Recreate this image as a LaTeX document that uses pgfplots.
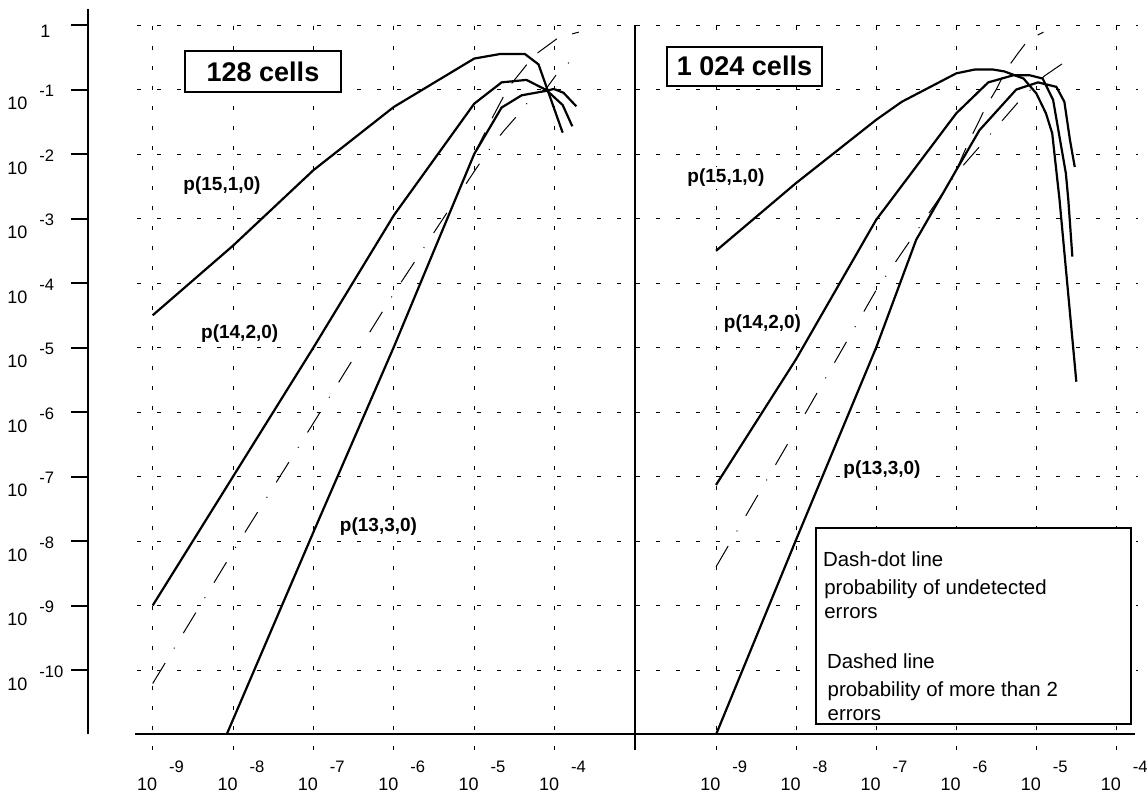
\documentclass[border=0pt]{standalone}
\usepackage{fontspec}
\setmainfont{Liberation Sans}
\usepackage{pgfplots}
\pgfplotsset{compat=1.18}
\newcommand\tf{\fontsize{9}{10}\selectfont}
\newcommand\ef{\fontsize{8.3}{10}\selectfont}
\newcommand\lf{\fontsize{9.5}{11}\selectfont\bfseries}
\newcommand\gf{\fontsize{10.2}{12}\selectfont}
\tikzset{
  solidc/.style={black, line width=1.1pt, line join=round},
  ddc/.style={black, line width=0.5pt, dash pattern=on 12pt off 8.5pt on 0.5pt off 8.5pt},
  dshc/.style={black, line width=0.5pt, dash pattern=on 12pt off 8pt},
}
\begin{document}
\begin{tikzpicture}
\path[use as bounding box] (0,0) rectangle (574pt,-396.5pt);
% ---------------- left panel: 128 cells
\begin{axis}[scale only axis, xmode=log, ymode=log,
    height=362.5pt, ymin=5.75e-12, ymax=1,
    ytick={1,1e-1,1e-2,1e-3,1e-4,1e-5,1e-6,1e-7,1e-8,1e-9,1e-10},
    xtick={1e-9,1e-8,1e-7,1e-6,1e-5,1e-4},
    xticklabels={}, yticklabels={},
    axis line style={draw=none},
    major tick length=0pt, minor tick length=0pt,
    tick style={draw=none},
    grid=major,
    major grid style={black, line width=0.5pt, dash pattern=on 2pt off 8pt},
    anchor=south west, at={(68.5pt,-375pt)}, width=249pt, xmin=6.38e-10, xmax=1e-3]
% p(15,1,0)
\addplot[solidc, mark=none] coordinates {(1e-9,3.16e-5) (1e-8,3.80e-4) (1e-7,5.62e-3) (1e-6,5.37e-2) (1e-5,0.302) (2.09e-5,0.355) (4.27e-5,0.355) (6.31e-5,0.245) (1.26e-4,2.14e-2)};
% p(14,2,0)
\addplot[solidc, mark=none] coordinates {(1e-9,1e-9) (1e-8,1e-7) (1e-7,1e-5) (1e-6,1.12e-3) (1e-5,6.03e-2) (2.19e-5,0.129) (4.47e-5,0.141) (7.94e-5,9.77e-2) (1.26e-4,5.75e-2) (1.66e-4,2.69e-2)};
% p(13,3,0)
\addplot[solidc, mark=none] coordinates {(8.32e-9,1e-11) (1e-7,1.38e-8) (1e-6,1.02e-5) (1e-5,1e-2) (2.19e-5,5.25e-2) (3.89e-5,8.13e-2) (7.94e-5,9.55e-2) (9.77e-5,0.102) (1.29e-4,8.91e-2) (1.86e-4,5.50e-2)};
% undetected errors (dash-dot)
\addplot[ddc, mark=none] coordinates {(1e-9,6.17e-11) (1e-8,6.92e-9) (1e-7,6.76e-7) (1e-6,6.92e-5) (1e-5,5.37e-3) (1.66e-5,1.35e-2) (2.34e-5,2.29e-2) (3.63e-5,4.27e-2) (4.90e-5,6.92e-2) (7.94e-5,0.105) (1.17e-4,0.204) (1.70e-4,0.295)};
% more than 2 errors (dashed)
\addplot[dshc, mark=none] coordinates {(1e-5,1e-2) (1.66e-5,3.55e-2) (2.29e-5,7.59e-2) (2.95e-5,0.126) (4.47e-5,0.240) (6.03e-5,0.363) (1.05e-4,0.603) (1.62e-4,0.724) (2.00e-4,0.776)};
\end{axis}
% ---------------- right panel: 1 024 cells
\begin{axis}[scale only axis, xmode=log, ymode=log,
    height=362.5pt, ymin=5.75e-12, ymax=1,
    ytick={1,1e-1,1e-2,1e-3,1e-4,1e-5,1e-6,1e-7,1e-8,1e-9,1e-10},
    xtick={1e-9,1e-8,1e-7,1e-6,1e-5,1e-4},
    xticklabels={}, yticklabels={},
    axis line style={draw=none},
    major tick length=0pt, minor tick length=0pt,
    tick style={draw=none},
    grid=major,
    major grid style={black, line width=0.5pt, dash pattern=on 2pt off 8pt},
    anchor=south west, at={(318pt,-375pt)}, width=251pt, xmin=1e-10, xmax=1.862e-4]
% p(15,1,0)
\addplot[solidc, mark=none] coordinates {(1e-9,3.16e-4) (1e-8,3.55e-3) (1e-7,3.39e-2) (2.09e-7,6.46e-2) (1e-6,0.178) (1.70e-6,0.204) (2.88e-6,0.204) (3.98e-6,0.191) (6.92e-6,0.148) (1e-5,8.71e-2) (1.32e-5,4.27e-2) (1.58e-5,2.09e-2) (1.95e-5,1.95e-3) (3.16e-5,2.95e-6)};
% p(14,2,0)
\addplot[solidc, mark=none] coordinates {(1e-9,7.41e-8) (1e-8,6.61e-6) (1e-7,9.55e-4) (1e-6,4.27e-2) (2.51e-6,0.129) (5.13e-6,0.166) (8.32e-6,0.166) (1.20e-5,0.148) (1.62e-5,6.92e-2) (2.34e-5,5.01e-3) (2.51e-5,1.95e-3) (2.82e-5,2.57e-4)};
% p(13,3,0)
\addplot[solidc, mark=none] coordinates {(1e-9,1e-11) (1e-8,1.05e-8) (1e-7,1e-5) (3.16e-7,4.68e-4) (1e-6,5.62e-3) (1.95e-6,2.34e-2) (5.62e-6,0.1) (1.05e-5,0.129) (1.78e-5,0.110) (2.24e-5,6.46e-2) (2.63e-5,1.66e-2) (3.02e-5,6.3e-3)};
% undetected errors (dash-dot)
\addplot[ddc, mark=none] coordinates {(1e-9,3.98e-9) (1e-8,5.37e-7) (1e-7,7.76e-5) (1e-6,5.01e-3) (6.31e-6,6.92e-2) (1.26e-5,0.162) (2.29e-5,0.269)};
% more than 2 errors (dashed)
\addplot[dshc, mark=none] coordinates {(1e-6,5.62e-3) (1.41e-6,1.48e-2) (1.91e-6,3.16e-2) (2.29e-6,5.13e-2) (3.16e-6,0.1) (4.17e-6,0.2) (5.89e-6,0.363) (7.94e-6,0.589) (1.23e-5,0.776)};
\end{axis}
% ---------------- frame, ticks, labels (pixel units, y down)
\begin{scope}[x=0.5pt,y=-0.5pt]
\draw[line width=1pt] (88.3,9) -- (88.3,734.3);
\foreach \k in {0,...,10} {\draw[line width=1pt] (70.7,{25+64.5*\k}) -- (88.3,{25+64.5*\k});}
\draw[line width=1pt] (135,733.5) -- (1135,733.5);
\draw[line width=1pt] (635,25) -- (635,750);
% y tick labels
\node[anchor=base west, inner sep=0pt] at (40,37) {\tf 1};
\foreach \k in {1,...,10} {
  \node[anchor=base west, inner sep=0pt] at (7,{25+64.5*\k+20}) {\tf 10};
  \node[anchor=base west, inner sep=0pt] at (39,{25+64.5*\k+7}) {\ef -\k};
}
% x tick labels
\foreach \j in {0,...,5} {
  \pgfmathtruncatemacro\e{9-\j}
  \node[anchor=base west, inner sep=0pt] at ({152.7+80.4*\j-16},790) {\tf 10};
  \node[anchor=base west, inner sep=0pt] at ({152.7+80.4*\j+16},772) {\ef -\e};
  \node[anchor=base west, inner sep=0pt] at ({716+80.1*\j-16},790) {\tf 10};
  \node[anchor=base west, inner sep=0pt] at ({716+80.1*\j+16},772) {\ef -\e};
}
% titles
\node[draw, line width=1pt, fill=white, minimum width=78pt, minimum height=20.5pt, inner sep=0pt] at (263,71.5) {\fontsize{13.5}{15}\selectfont\bfseries 128 cells};
\node[draw, line width=1pt, fill=white, minimum width=77.5pt, minimum height=19.5pt, inner sep=0pt] at (744.5,66) {\fontsize{13.5}{15}\selectfont\bfseries 1 024 cells};
% curve labels
\node[fill=white, inner sep=1pt] at (222,185.5) {\lf p(15,1,0)};
\node[fill=white, inner sep=1pt] at (239.7,334) {\lf p(14,2,0)};
\node[fill=white, inner sep=1pt] at (378.5,527) {\lf p(13,3,0)};
\node[fill=white, inner sep=1pt] at (726,178) {\lf p(15,1,0)};
\node[fill=white, inner sep=1pt] at (762.5,324) {\lf p(14,2,0)};
\node[fill=white, inner sep=1pt] at (882,470) {\lf p(13,3,0)};
% legend box
\draw[line width=1pt, fill=white] (816,528) rectangle (1131,724);
\node[anchor=base west, inner sep=0pt] at (822.7,566.7) {\gf Dash-dot line};
\node[anchor=base west, inner sep=0pt] at (824,594) {\gf probability of undetected};
\node[anchor=base west, inner sep=0pt] at (824,618.3) {\gf errors};
\node[anchor=base west, inner sep=0pt] at (826.7,668.3) {\gf Dashed line};
\node[anchor=base west, inner sep=0pt] at (827.3,696.7) {\gf probability of more than 2};
\node[anchor=base west, inner sep=0pt] at (827.3,720) {\gf errors};
\end{scope}
\end{tikzpicture}
\end{document}
